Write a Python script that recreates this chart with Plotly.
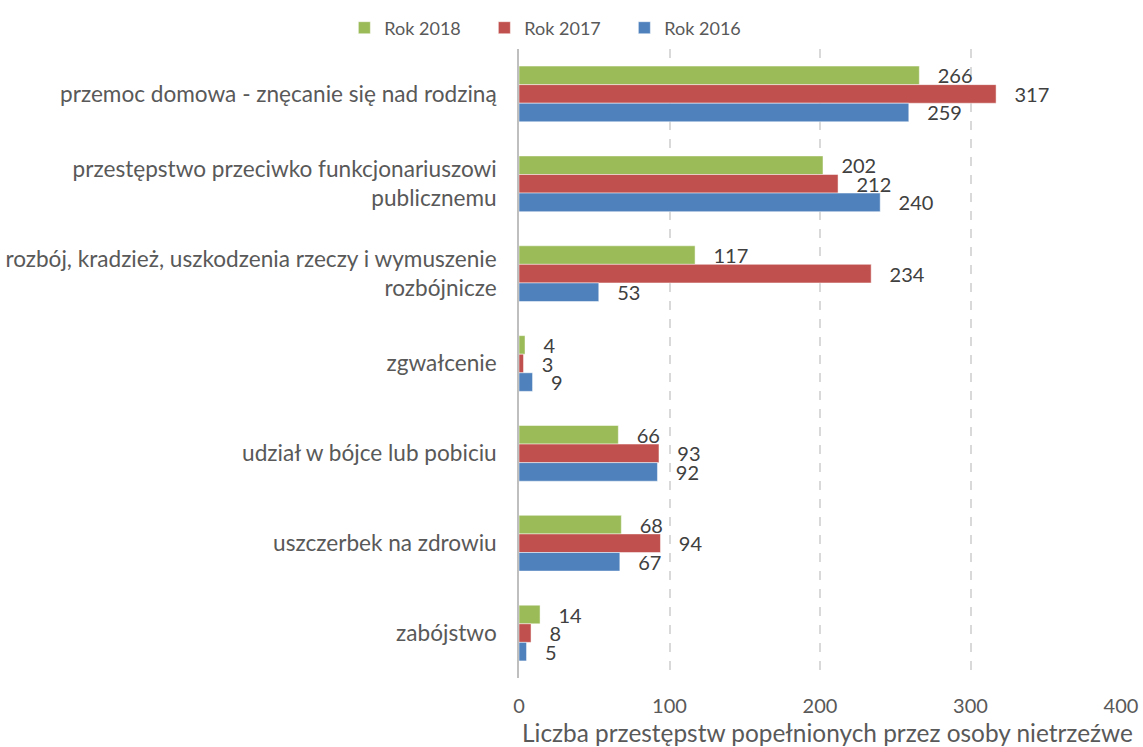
import plotly.graph_objects as go

categories = [
    "przemoc domowa - znęcanie się nad rodziną",
    "przestępstwo przeciwko funkcjonariuszowi<br>publicznemu",
    "rozbój, kradzież, uszkodzenia rzeczy i wymuszenie<br>rozbójnicze",
    "zgwałcenie",
    "udział w bójce lub pobiciu",
    "uszczerbek na zdrowiu",
    "zabójstwo",
]
rok_2018 = [266, 202, 117, 4, 66, 68, 14]
rok_2017 = [317, 212, 234, 3, 93, 94, 8]
rok_2016 = [259, 240, 53, 9, 92, 67, 5]

series = [
    ("Rok 2018", rok_2018, "#9BBB59"),
    ("Rok 2017", rok_2017, "#C0504D"),
    ("Rok 2016", rok_2016, "#4F81BD"),
]

FONT = "Lato"
fig = go.Figure()
for name, vals, color in series:
    fig.add_trace(go.Bar(
        y=categories, x=vals, name=name, orientation="h",
        marker=dict(color=color, line=dict(color="rgba(255,255,255,0.6)", width=0.8)),
        text=["\u00a0\u00a0\u00a0" + str(v) for v in vals], textposition="outside",
        constraintext="none",
        textfont=dict(size=20, color="#404040", family=FONT),
        cliponaxis=False,
    ))

fig.update_layout(
    width=1143, height=747,
    paper_bgcolor="white", plot_bgcolor="white",
    barmode="group", bargap=0.38, bargroupgap=0,
    margin=dict(l=519, r=22, t=49, b=69, autoexpand=False),
    font=dict(family=FONT, color="#595959", size=20),
    legend=dict(orientation="h", xref="container", yref="container",
                x=0.485, xanchor="center", y=0.9625, yanchor="middle",
                entrywidth=95, entrywidthmode="pixels",
                font=dict(size=18, color="#595959", family=FONT), traceorder="normal"),
    xaxis=dict(range=[0, 400], dtick=100, showgrid=True, gridcolor="#D9D9D9",
               griddash="dash", gridwidth=1.5, zeroline=False, automargin=False,
               tickfont=dict(size=20, color="#595959"), ticks="", ticklabelstandoff=14),
    yaxis=dict(autorange="reversed", showline=True, linecolor="#BFBFBF", linewidth=1.5,
               automargin=False,
               ticks="", tickfont=dict(size=22.6, color="#595959"), ticklabelstandoff=16),
    annotations=[dict(text="Liczba przestępstw popełnionych przez osoby nietrzeźwe",
                      xref="paper", yref="paper", x=0.513, y=-0.087, xanchor="center",
                      yanchor="middle", showarrow=False,
                      font=dict(size=24.4, color="#595959", family=FONT))],
)
fig.write_html("out.html", config={"displayModeBar": False},
               post_script="document.body.style.margin='0';")
